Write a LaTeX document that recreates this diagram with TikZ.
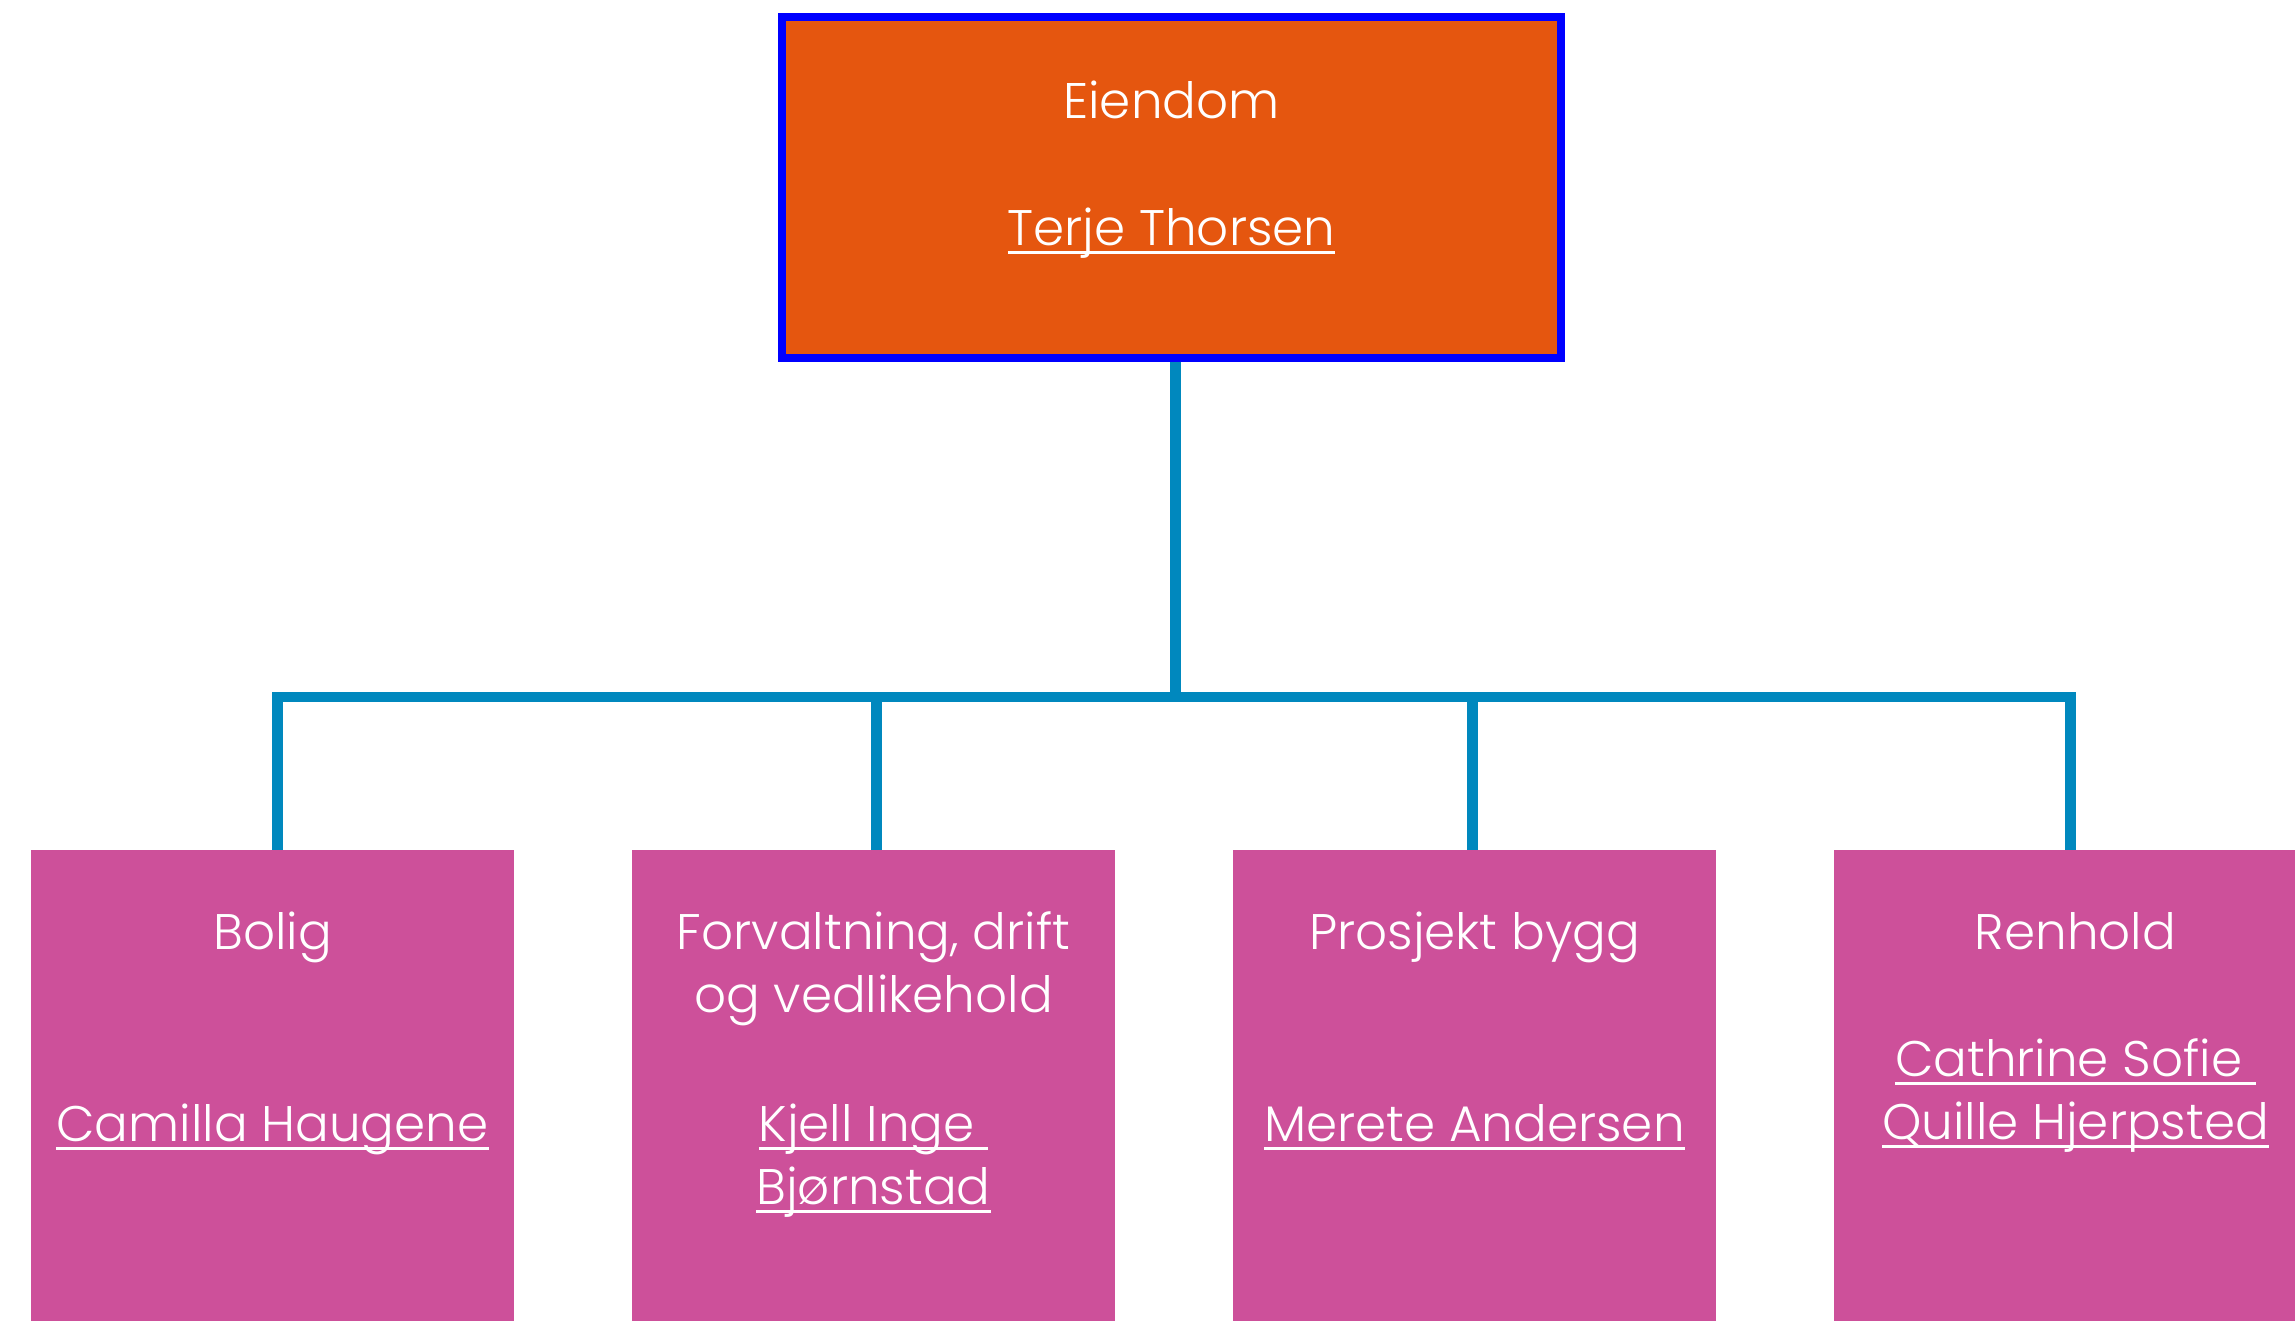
\documentclass[tikz,border=0pt]{standalone}
\usepackage{fontspec}
\setmainfont{Poppins}[UprightFont={* Light}]
\usetikzlibrary{calc}
\definecolor{topfill}{HTML}{E5560F}
\definecolor{topline}{HTML}{0000FF}
\definecolor{unitfill}{HTML}{CD509A}
\definecolor{conncol}{HTML}{0088BE}
\newcommand\ulx[1]{\setbox0\hbox{#1}\rlap{\rule[-8pt]{\wd0}{2.5pt}}\box0}
\tikzset{
  topbox/.style={draw=topline, line width=8pt, fill=topfill, minimum width=779pt, minimum height=341pt, inner sep=0pt},
  unitbox/.style={fill=unitfill, minimum width=483pt, minimum height=500pt, inner sep=0pt},
  conn/.style={draw=conncol, line width=10.5pt},
  lbl/.style={text=white, anchor=base, inner sep=0pt, font=\fontsize{50}{63}\selectfont}
}
\begin{document}
\begin{tikzpicture}[x=1pt,y=-1pt]
\useasboundingbox (0,0) rectangle (2295,1321);
\clip (0,0) rectangle (2295,1321);
\node[topbox] (top) at (1171.5,187.5) {};
\node[unitbox] (b1) at (272.5,1100) {};
\node[unitbox] (b2) at (873.5,1100) {};
\node[unitbox] (b3) at (1474.5,1100) {};
\node[unitbox] (b4) at (2075.5,1100) {};
\coordinate (bus) at ($(top.south)+(4,335)$);
\draw[conn] ([xshift=4pt]top.south) -- (bus);
\draw[conn] ([xshift=5pt]b1.north) -- ([xshift=5pt]b1.north |- bus) -- ([xshift=-5pt]b4.north |- bus) -- ([xshift=-5pt]b4.north);
\draw[conn] ([xshift=3pt]b2.north |- bus) -- ([xshift=3pt]b2.north);
\draw[conn] ([xshift=-2pt]b3.north |- bus) -- ([xshift=-2pt]b3.north);
\node[lbl] (t1) at ($(top.north)+(0,106)$) {Eiendom};
\node[lbl] (t2) at ($(top.north)+(0,233)$) {\ulx{Terje Thorsen}};
\node[lbl] (a1) at ($(b1.north)+(0,100)$) {Bolig};
\node[lbl] (a2) at ($(b1.north)+(0,292)$) {\ulx{Camilla Haugene}};
\node[lbl] (c1) at ($(b2.north)+(0,100)$) {Forvaltning, drift};
\node[lbl] (c2) at ($(b2.north)+(0,163)$) {og vedlikehold};
\node[lbl] (c3) at ($(b2.north)+(0,292)$) {\ulx{Kjell Inge\ }};
\node[lbl] (c4) at ($(b2.north)+(0,355)$) {\ulx{Bjørnstad}};
\node[lbl] (d1) at ($(b3.north)+(0,100)$) {Prosjekt bygg};
\node[lbl] (d2) at ($(b3.north)+(0,292)$) {\ulx{Merete Andersen}};
\node[lbl] (e1) at ($(b4.north)+(0,100)$) {Renhold};
\node[lbl] (e2) at ($(b4.north)+(0,227)$) {\ulx{Cathrine Sofie\ }};
\node[lbl] (e3) at ($(b4.north)+(0,290)$) {\ulx{Quille Hjerpsted}};
\end{tikzpicture}
\end{document}
